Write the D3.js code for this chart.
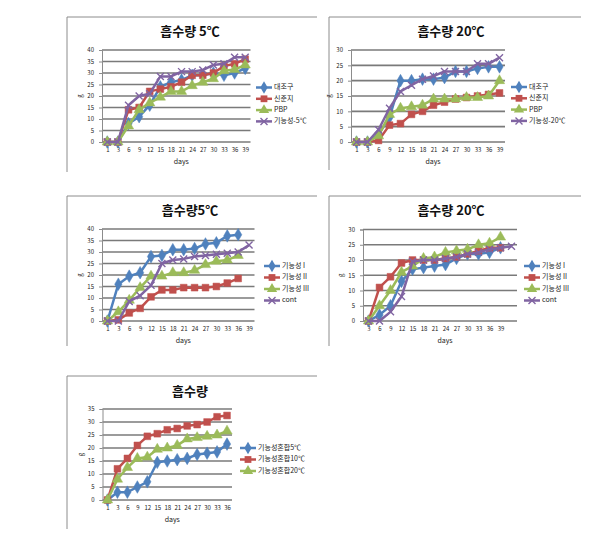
<!DOCTYPE html>
<html><head><meta charset="utf-8">
<script src="https://cdn.jsdelivr.net/npm/d3@7"></script>
<style>body{margin:0;background:#fff}svg{display:block}</style>
</head><body>
<svg id="c" width="601" height="536"></svg>
<script>
// ---------- DATA ----------
const p1Days = ["1","3","6","9","12","15","18","21","24","27","30","33","36","39"];
const p1Names = ["대조구","신준지","PBP","기능성-5℃"];
const p1A = [0,0,8,11,16,24,26,27,29,29,30,29,30,32];
const p1B = [0,0,14,15,22,23,24,26,29,29,30,33,34,36];
const p1C = [0,0,7,14,17,19.5,22,22,24.5,26,27.5,31,31.5,33.5];
const p1D = [0,0,16,20,21,28.5,28.5,30.6,30.6,31.3,33.5,34,36.8,36.8];

const p2Days = ["1","3","6","9","12","15","18","21","24","27","30","33","36","39"];
const p2Names = ["대조구","신준지","PBP","기능성-20℃"];
const p2A = [0,0,2.5,8,20,20,20.5,20.5,21,23,23,24,24.5,24.5];
const p2B = [0,0,0.5,5.5,6,9,10,12,13,14,14.5,15,15.5,16];
const p2C = [0,0,2,9,11,11.5,12,14,14,14,14.5,14.5,15,20];
const p2D = [0,0,4,11,16.5,18.5,20.5,21.5,23,23,23,25.5,25.5,27.5];

const p3Days = ["1","3","6","9","12","15","18","21","24","27","30","33","36","39"];
const p3Names = ["기능성 I","기능성 II","기능성 III","cont"];
const p3A = [0,16,19.5,21,28,28.5,31,31,31.5,33.5,34,37,37.5];
const p3B = [0,0.5,3.5,5.5,10.5,13.5,13.5,14.5,14.5,14.5,15,16.5,18.5];
const p3C = [0,4,9,14.5,19.5,19.5,21,21,22,24.5,26,26.5,28.5];
const p3D = [0,0,8.5,11,15.5,25,26.5,27,28,28.5,29,29.5,30,33];

const p4Days = ["3","6","9","12","15","18","21","24","27","30","33","36","39",""];
const p4Names = ["기능성 I","기능성 II","기능성 III","cont"];
const p4A = [0,2,5,13,17,17.5,18,18.5,20.5,22,22,22.5,24];
const p4B = [0,11,14.5,19,20,20,20,20.5,21,22,23,24,24];
const p4C = [0,5,10,16,18,20.5,21,22.5,23,23.5,25,25.5,27.5];
const p4D = [0,0,3,8,19.5,20,20,20.5,21,22,22.5,23.5,24,24.5];

const p5Days = ["1","3","6","9","12","15","18","21","24","27","30","33","36"];
const p5Names = ["기능성혼합5℃","기능성혼합10℃","기능성혼합20℃"];
const p5A = [0,3,3,5,7,14.5,15,15.5,16,17.5,18,18.5,21.5];
const p5B = [0,12,16,21,24.5,25.5,27,27.5,28.5,29,30,32,32.5];
const p5C = [0,8,12.5,16,16.5,19.5,20,21,23.5,24,24.5,25,26.5];

// ---------- STYLE ----------
const FONT = "'Noto Sans CJK KR','Noto Sans',sans-serif";
const colors = ["#4F81BD","#C0504D","#9BBB59","#8064A2"];
const markers = ["diamond","square","triangle","x"];

const svg = d3.select("#c");

function markerPath(type){
  if(type==="diamond") return d3.symbol(d3.symbolDiamond, 46)();
  if(type==="square") return d3.symbol(d3.symbolSquare, 46)();
  if(type==="triangle") return d3.symbol(d3.symbolTriangle, 46)();
  return "M-3.5,-3.5L3.5,3.5M-3.5,3.5L3.5,-3.5";
}

function drawPanel(cfg){
  const g = svg.append("g");
  g.append("path").attr("d", `M${cfg.frame[0]},${cfg.frame[3]}V${cfg.frame[1]}H${cfg.frame[2]}`)
    .attr("fill","none").attr("stroke","#8c8c8c").attr("stroke-width",1);
  g.append("text").attr("x",cfg.titleX).attr("y",cfg.titleY).attr("text-anchor","middle")
    .attr("dominant-baseline","middle").attr("font-family",FONT).attr("font-weight","bold")
    .attr("font-size",13).attr("fill","#111").text(cfg.title);

  const x = d3.scalePoint().domain(d3.range(cfg.days.length)).range([cfg.left,cfg.right]).padding(0.5);
  const y = d3.scaleLinear().domain([0,cfg.ymax]).range([cfg.bottom,cfg.top]);
  const ticks = d3.range(0,cfg.ymax+0.1,5);

  g.append("g").selectAll("line").data(ticks).join("line")
    .attr("x1",cfg.left).attr("x2",cfg.right).attr("y1",d=>y(d)).attr("y2",d=>y(d))
    .attr("stroke","#7a7a7a").attr("stroke-width",1.7);
  const ya = g.append("g").attr("transform",`translate(${cfg.left},0)`)
    .call(d3.axisLeft(y).tickValues(ticks).tickSize(3).tickPadding(5));
  ya.select(".domain").attr("stroke","#8c8c8c");
  ya.selectAll(".tick line").attr("stroke","#8c8c8c");
  ya.selectAll("text").attr("font-family",FONT).attr("font-size",6).attr("fill","#222");
  const xa = g.append("g").attr("transform",`translate(0,${cfg.bottom})`)
    .call(d3.axisBottom(x).tickFormat(i=>cfg.days[i]).tickSize(0).tickPadding(6));
  xa.select(".domain").remove();
  xa.selectAll("text").attr("font-family",FONT).attr("font-size",6).attr("fill","#222");
  g.append("text").attr("x",(cfg.left+cfg.right)/2+5).attr("y",cfg.bottom+22).attr("text-anchor","middle")
    .attr("font-family",FONT).attr("font-size",7).attr("fill","#222").text("days");
  g.append("text").attr("transform",`translate(${cfg.left-20},${(cfg.top+cfg.bottom)/2}) rotate(-90)`)
    .attr("text-anchor","middle").attr("font-family",FONT).attr("font-size",6).attr("fill","#222").text("g");

  const line = d3.line().x((d,i)=>x(i)).y(d=>y(d));
  cfg.series.forEach((s,k)=>{
    g.append("path").datum(s).attr("d",line).attr("fill","none")
      .attr("stroke",colors[k]).attr("stroke-width",2.5).attr("stroke-linejoin","round");
    const mk = g.append("g").selectAll("path").data(s).join("path")
      .attr("transform",(d,i)=>`translate(${x(i)},${y(d)})`).attr("d",markerPath(markers[k]));
    if(markers[k]==="x") mk.attr("fill","none").attr("stroke",colors[k]).attr("stroke-width",1.4);
    else mk.attr("fill",colors[k]).attr("stroke",colors[k]).attr("stroke-width",0.5);
  });

  cfg.names.forEach((n,k)=>{
    const ly = cfg.legY + k*cfg.legStep;
    const lg = g.append("g");
    lg.append("line").attr("x1",cfg.legX).attr("x2",cfg.legX+16).attr("y1",ly).attr("y2",ly)
      .attr("stroke",colors[k]).attr("stroke-width",2.5);
    const m = lg.append("path").attr("transform",`translate(${cfg.legX+8},${ly})`).attr("d",markerPath(markers[k]));
    if(markers[k]==="x") m.attr("fill","none").attr("stroke",colors[k]).attr("stroke-width",1.4);
    else m.attr("fill",colors[k]);
    lg.append("text").attr("x",cfg.legX+18).attr("y",ly).attr("dominant-baseline","middle")
      .attr("font-family",FONT).attr("font-size",7).attr("fill","#222").text(n);
  });
}

drawPanel({frame:[67,17,317,172], title:"흡수량 5℃", titleX:190, titleY:32.5,
  left:102,right:250.5,top:50,bottom:142,ymax:40, days:p1Days, names:p1Names,
  series:[p1A,p1B,p1C,p1D], legX:256, legY:87.5, legStep:11.3});
drawPanel({frame:[329,17,581,170], title:"흡수량 20℃", titleX:451, titleY:32.5,
  left:351,right:505,top:50,bottom:142,ymax:30, days:p2Days, names:p2Names,
  series:[p2A,p2B,p2C,p2D], legX:511, legY:87, legStep:11.3});
drawPanel({frame:[67,196,317,346], title:"흡수량5℃", titleX:190, titleY:211.5,
  left:102,right:254.5,top:229,bottom:321,ymax:40, days:p3Days, names:p3Names,
  series:[p3A,p3B,p3C,p3D], legX:264, legY:266, legStep:11.5});
drawPanel({frame:[329,196,581,346], title:"흡수량 20℃", titleX:451, titleY:211.5,
  left:363,right:517,top:229.5,bottom:321,ymax:30, days:p4Days, names:p4Names,
  series:[p4A,p4B,p4C,p4D], legX:524, legY:266, legStep:11.5});
drawPanel({frame:[67,376,317,529], title:"흡수량", titleX:190, titleY:392.5,
  left:102.5,right:232,top:409,bottom:500,ymax:35, days:p5Days, names:p5Names,
  series:[p5A,p5B,p5C], legX:240, legY:448, legStep:11.5});
</script>
</body></html>
